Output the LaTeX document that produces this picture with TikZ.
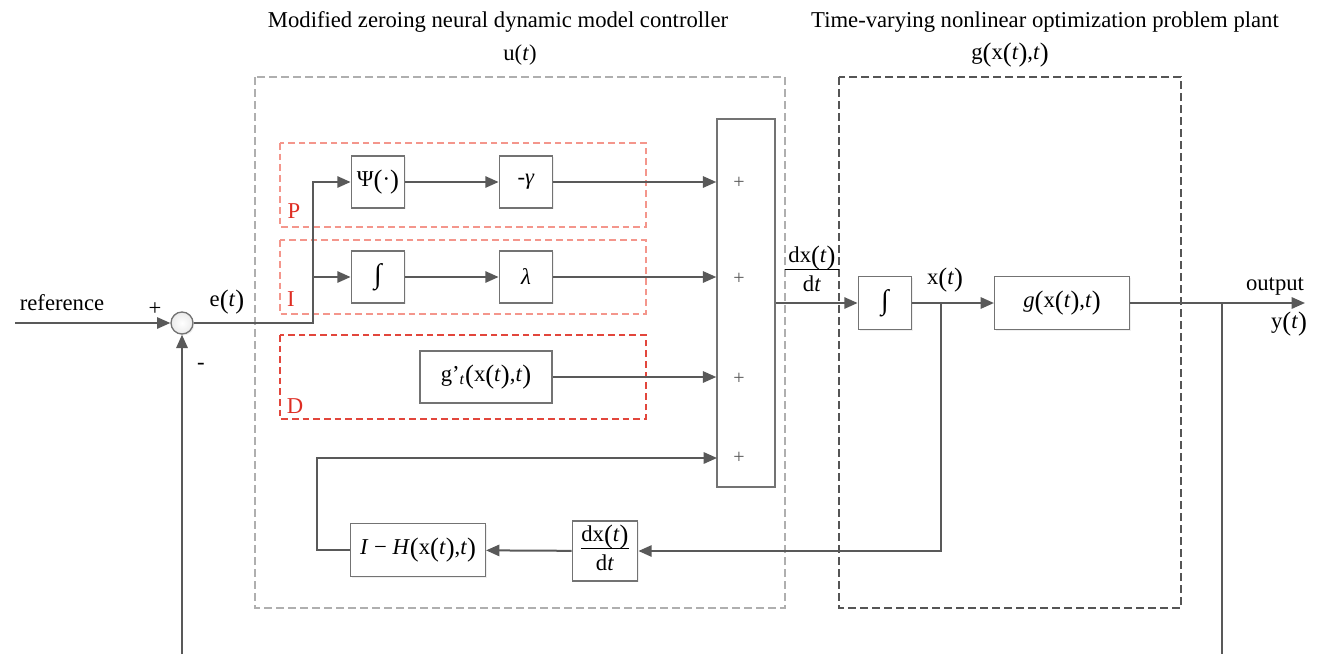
\documentclass[tikz,border=0pt]{standalone}
\usepackage{fontspec}
\setmainfont{Liberation Serif}
\usetikzlibrary{arrows.meta,shadows}
\definecolor{LineGray}{RGB}{89,89,89}
\definecolor{BoxGray}{RGB}{115,115,115}
\definecolor{FrameGray}{RGB}{175,175,175}
\definecolor{PlantGray}{RGB}{85,85,85}
\definecolor{PaleRed}{RGB}{244,150,140}
\definecolor{DeepRed}{RGB}{226,70,60}
\definecolor{LabelRed}{RGB}{222,45,35}
% italic t, tall brackets, integral sign
\newcommand{\ti}{\textit{t}}
\newcommand{\lb}{\raisebox{-1.5pt}{\fontsize{20}{20}\selectfont(}}
\newcommand{\rb}{\raisebox{-1.5pt}{\fontsize{20}{20}\selectfont)}}
\newcommand{\intg}{{\fontsize{21}{21}\selectfont ∫}}
\newcommand{\frc}[2]{\begin{tabular}{@{}c@{}}#1\\[-1pt]\hline\rule{0pt}{16pt}#2\end{tabular}}

\begin{document}
\begin{tikzpicture}[x=0.75pt,y=-0.75pt,
    every node/.style={font=\fontsize{17}{19}\selectfont},
    line/.style={draw=LineGray,line width=1.5pt},
    arr/.style={line,-{Triangle[length=10pt,width=8.5pt]}},
    block/.style={draw=BoxGray,line width=1.1pt,fill=white,inner sep=0pt,
        drop shadow={shadow xshift=1pt,shadow yshift=-1pt,fill=black!12}},
    small/.style={block,minimum width=40pt,minimum height=39pt},
    wide/.style={block,minimum width=101pt,minimum height=40pt},
    plus/.style={font=\fontsize{15}{15}\selectfont,text=LineGray}]
    \useasboundingbox (0,0) rectangle (1322,654);

    % frames of controller and plant
    \draw[FrameGray,line width=0.9pt,dash pattern=on 6pt off 3pt] (255,77) rectangle (785,608);
    \draw[PlantGray,line width=1pt,dash pattern=on 6pt off 3pt] (839,77) rectangle (1181,608);
    \node at (498,22) {Modified zeroing neural dynamic model controller};
    \node at (520,55) {u(\ti)};
    \node at (1045,22) {Time-varying nonlinear optimization problem plant};
    \node at (1010,55) {g\lb x\lb\ti\rb,\ti\rb};

    % P, I and D groups
    \draw[PaleRed,line width=1pt,dash pattern=on 5pt off 3pt] (280,143) rectangle (646,227);
    \draw[PaleRed,line width=1pt,dash pattern=on 5pt off 3pt] (280,240) rectangle (646,314);
    \draw[DeepRed,line width=1.1pt,dash pattern=on 5pt off 3pt] (280,335) rectangle (646,419);
    \node[text=LabelRed] at (294,211) {P};
    \node[text=LabelRed] at (291,299) {I};
    \node[text=LabelRed] at (295,406) {D};

    % blocks
    \node[circle,draw=BoxGray,line width=1pt,minimum size=16.5pt,inner sep=0pt,
        inner color=white,outer color=black!8,
        drop shadow={shadow xshift=1pt,shadow yshift=-1pt,fill=black!15}] (sj) at (182,323) {};
    \node[small] (psi) at (378,182) {Ψ\lb·\rb};
    \node[small] (gam) at (526,182) {-\textit{γ}};
    \node[small] (int1) at (378,277) {\intg};
    \node[small] (lam) at (526,277) {\textit{λ}};
    \node[block,minimum width=99pt,minimum height=39pt] (gd) at (486,377)
        {g'\textsubscript{\ti}\lb x\lb\ti\rb,\ti\rb};
    \node[block,minimum width=43.5pt,minimum height=276pt] (sum) at (746,303) {};
    \foreach \y in {183,279,379,458}
        \node[plus] at (739,\y) {+};
    \node[wide] (ih) at (418,550) {\textit{I} − \textit{H}\lb x\lb\ti\rb,\ti\rb};
    \node[block,minimum width=49pt,minimum height=45pt] (dxdt) at (605,551)
        {\frc{dx\lb\ti\rb}{d\ti}};
    \node[small,minimum height=40pt] (int2) at (885,303) {\intg};
    \node[wide] (gx) at (1062,303) {\textit{g}\lb x\lb\ti\rb,\ti\rb};

    % branch points and loose ends
    \coordinate (ref) at (15,323);
    \coordinate (split) at (313,323);
    \coordinate (loop) at (317,458);
    \coordinate (in4) at (717,458);
    \coordinate (xtap) at (941,303);
    \coordinate (ytap) at (1222,303);
    \coordinate (out) at (1305,303);
    \coordinate (fbin) at (182,654);
    \coordinate (fbout) at (1222,654);

    % signal lines
    \draw[arr] (ref) -- (sj.west);
    \draw[arr] (fbin) -- (sj.south);
    \draw[arr] (sj.east) -- (split) |- (psi.west);
    \draw[arr] (split |- int1) -- (int1.west);
    \draw[arr] (psi) -- (gam);
    \draw[arr] (int1) -- (lam);
    \draw[arr] (gam) -- (sum.west |- gam);
    \draw[arr] (lam) -- (sum.west |- lam);
    \draw[arr] (gd) -- (sum.west |- gd);
    \draw[arr] (ih.west) -| (loop) -- (in4);
    \draw[arr] (sum.east |- int2) -- (int2.west);
    \draw[arr] (int2) -- (gx);
    \draw[arr] (xtap) |- (dxdt.east);
    \draw[arr] (dxdt) -- (ih);
    \draw[arr] (gx.east) -- (out);
    \draw[line] (ytap) -- (fbout);

    % signal labels
    \node at (62,303) {reference};
    \node at (155,309) {+};
    \node at (201,366) {-};
    \node at (227,302) {e\lb\ti\rb};
    \node[inner sep=0pt] at (812,272) {\frc{\makebox[41pt]{dx\lb\ti\rb}}{d\ti}};
    \node at (945,280) {x\lb\ti\rb};
    \node at (1275,287) {output};
    \node at (1289,324) {y\lb\ti\rb};
\end{tikzpicture}
\end{document}
